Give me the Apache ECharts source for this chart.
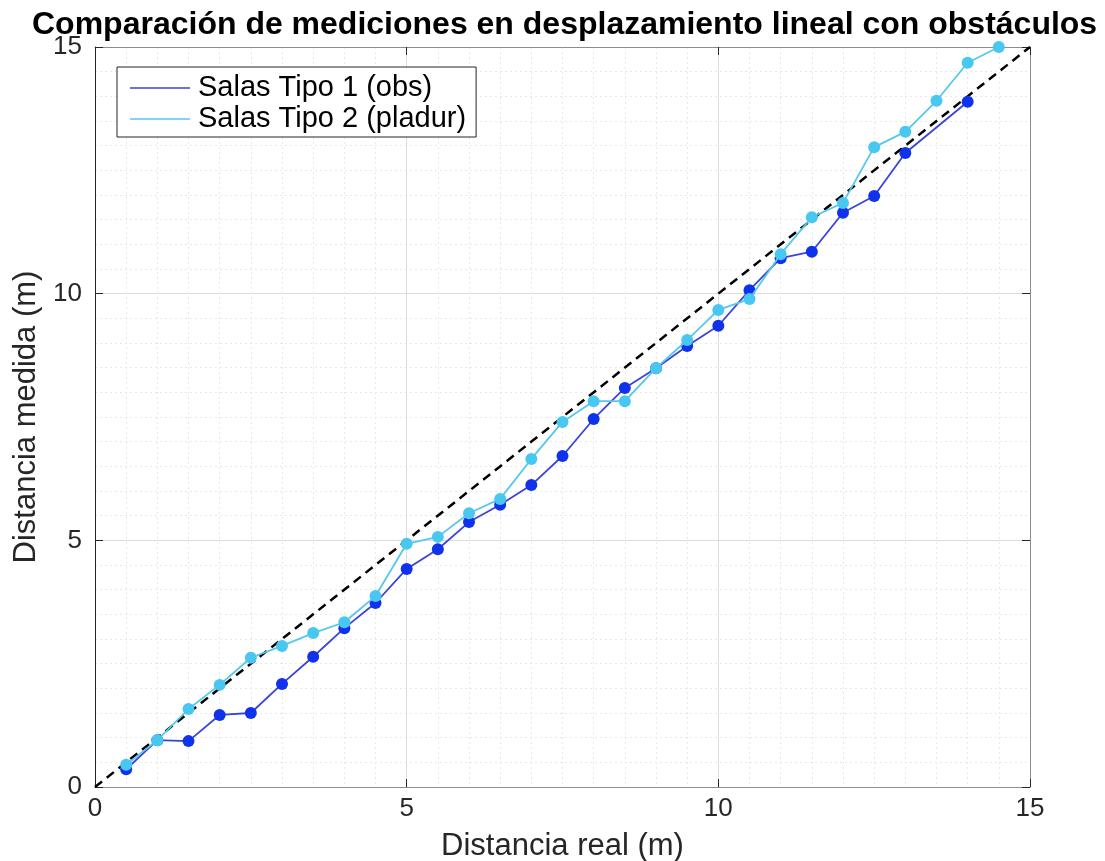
<!DOCTYPE html>
<html>
<head>
<meta charset="utf-8">
<script src="https://cdn.jsdelivr.net/npm/echarts@6/dist/echarts.min.js"></script>
<style>html,body{margin:0;padding:0;background:#fff;}#c{width:1105px;height:861px;}</style>
</head>
<body>
<div id="c"></div>
<script>
var titleText = 'Comparación de mediciones en desplazamiento lineal con obstáculos';
var xName = 'Distancia real (m)';
var yName = 'Distancia medida (m)';
var seriesNames = ['Salas Tipo 1 (obs)', 'Salas Tipo 2 (pladur)'];
var tickValues = [0, 5, 10, 15];

var x1 = [0.5,1,1.5,2,2.5,3,3.5,4,4.5,5,5.5,6,6.5,7,7.5,8,8.5,9,9.5,10,10.5,11,11.5,12,12.5,13,14];
var y1 = [0.36,0.95,0.93,1.46,1.50,2.09,2.64,3.22,3.73,4.42,4.82,5.37,5.72,6.12,6.71,7.46,8.09,8.49,8.94,9.35,10.07,10.72,10.85,11.64,11.98,12.85,13.89];

var x2 = [0.5,1,1.5,2,2.5,3,3.5,4,4.5,5,5.5,6,6.5,7,7.5,8,8.5,9,9.5,10,10.5,11,11.5,12,12.5,13,13.5,14,14.5];
var y2 = [0.45,0.95,1.58,2.07,2.62,2.86,3.12,3.34,3.87,4.93,5.07,5.55,5.84,6.65,7.40,7.82,7.82,8.49,9.06,9.67,9.89,10.80,11.55,11.84,12.97,13.28,13.91,14.68,15.0];

var refX = [0, 15];
var refY = [0, 15];

function pairs(xs, ys){ return xs.map(function(v,i){ return [v, ys[i]]; }); }

var chart = echarts.init(document.getElementById('c'), null, {renderer:'canvas'});
var font = 'Liberation Sans, Arial, Helvetica, sans-serif';

function mainAxis(pos, isX, showLabel, lineColor){
  var ax = {
    type: 'value',
    position: pos,
    min: 0, max: 15, interval: 5,
    axisLine: {show: true, onZero: false, lineStyle: {color: lineColor, width: 1}},
    axisTick: {show: true, inside: true, length: 8, lineStyle: {color: '#262626', width: 1}},
    axisLabel: {show: showLabel, color: '#262626', fontSize: 26, fontFamily: font, margin: isX ? 9 : 13,
      formatter: function(v){ return tickValues.indexOf(v) >= 0 ? String(v) : ''; }},
    splitLine: {show: showLabel, lineStyle: {color: '#dcdcdc', width: 1}},
    minorTick: {show: false, splitNumber: 10},
    minorSplitLine: {show: showLabel, lineStyle: {color: '#e8e8e8', width: 1, type: [2, 3]}}
  };
  if (showLabel) {
    ax.name = isX ? xName : yName;
    ax.nameLocation = 'middle';
    ax.nameGap = isX ? 44 : 53;
    ax.nameTextStyle = {color: '#262626', fontSize: 31, fontFamily: font};
  }
  return ax;
}

var xA = mainAxis('bottom', true, true, '#8c8c8c');
var xT = mainAxis('top', true, false, '#8c8c8c');
var yA = mainAxis('left', false, true, '#262626');
var yR = mainAxis('right', false, false, '#8c8c8c');

chart.setOption({
  backgroundColor: '#fff',
  animation: false,
  title: {
    text: titleText, left: 27, top: 4,
    textStyle: {fontSize: 32, fontWeight: 'bold', color: '#000', fontFamily: font}
  },
  grid: {left: 95, right: 75, top: 47, bottom: 74, containLabel: false, outerBoundsMode: 'none'},
  legend: {
    show: true,
    data: [
      {name: seriesNames[0], icon: 'rect', itemStyle: {color: '#3a44d8'}},
      {name: seriesNames[1], icon: 'rect', itemStyle: {color: '#55c8ec'}}
    ],
    orient: 'vertical',
    left: 117, top: 67,
    itemWidth: 60, itemHeight: 1.5, itemGap: 1,
    padding: [6, 10, 3, 13],
    borderColor: '#262626', borderWidth: 1, backgroundColor: '#fff',
    textStyle: {fontSize: 29, lineHeight: 30, color: '#000', fontFamily: font, padding: [0,0,0,3]},
    selectedMode: false
  },
  xAxis: [xA, xT],
  yAxis: [yA, yR],
  series: [
    {
      type: 'line', name: 'ref', data: pairs(refX, refY),
      xAxisIndex: 0, yAxisIndex: 0,
      symbol: 'none', silent: true, clip: false,
      lineStyle: {color: '#000', width: 2.5, type: [9, 6]}, z: 3
    },
    {
      type: 'line', name: seriesNames[0], data: pairs(x1, y1),
      xAxisIndex: 0, yAxisIndex: 0, clip: false,
      symbol: 'circle', symbolSize: 12,
      itemStyle: {color: '#1032ea'},
      lineStyle: {color: '#3a44d8', width: 1.8}, z: 4
    },
    {
      type: 'line', name: seriesNames[1], data: pairs(x2, y2),
      xAxisIndex: 0, yAxisIndex: 0, clip: false,
      symbol: 'circle', symbolSize: 12,
      itemStyle: {color: '#48c8f0'},
      lineStyle: {color: '#55c8ec', width: 1.8}, z: 5
    }
  ]
});
</script>
</body>
</html>
